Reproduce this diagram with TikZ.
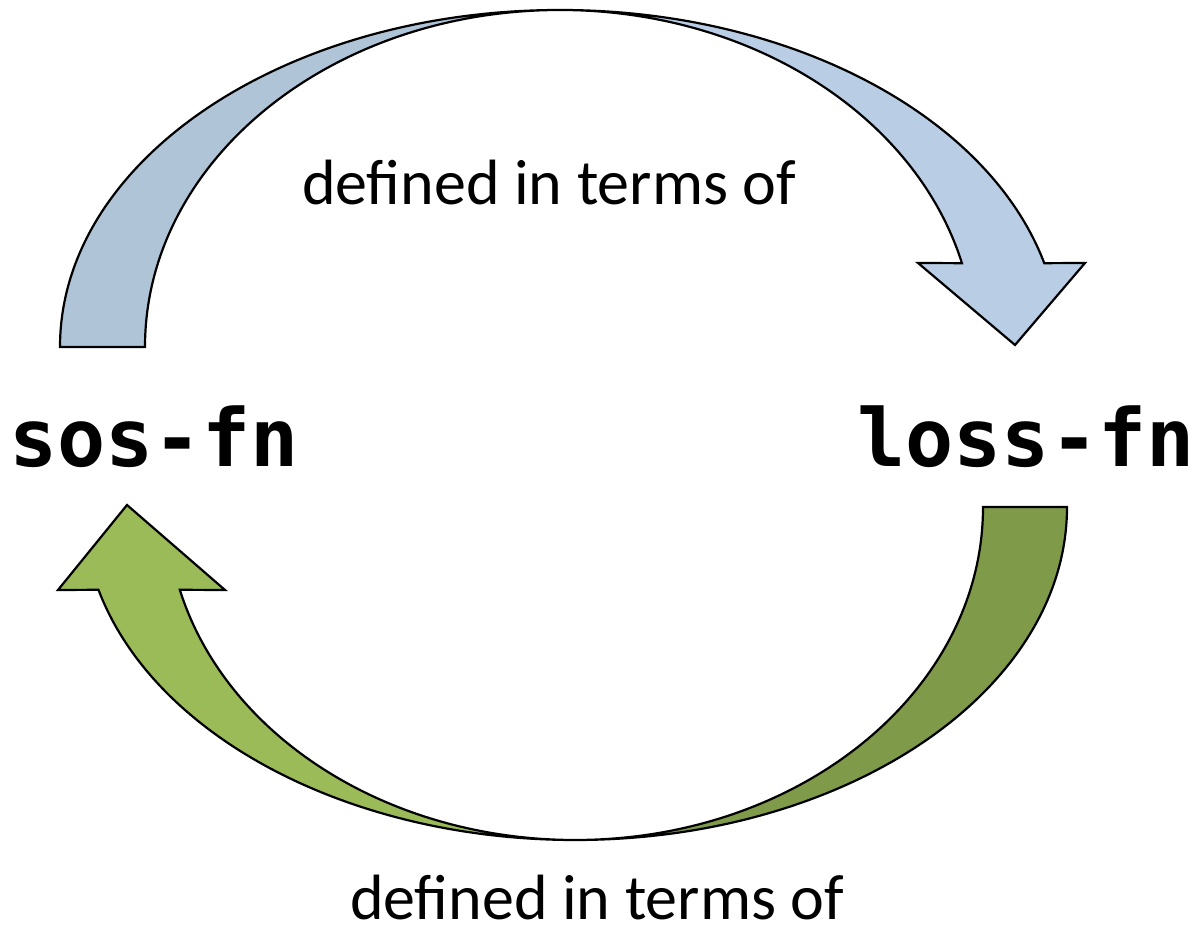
\documentclass[tikz,border=0pt]{standalone}
\usepackage{fontspec}
\setmainfont{Carlito}
\newfontfamily\codefont{DejaVu Sans Mono}
\usepackage{tikz}
\usetikzlibrary{positioning, calc}
\definecolor{blueBack}{HTML}{B0C4D8}
\definecolor{blueFront}{HTML}{B9CDE5}
\definecolor{greenBack}{HTML}{7F9A48}
\definecolor{greenFront}{HTML}{9BBB59}
\tikzset{
  arrow_body/.style={draw=black, line width=2.2pt, line join=miter},
  fn_label/.style={inner sep=0pt, font=\codefont\bfseries\fontsize{80}{96}\selectfont},
  label_text/.style={inner sep=0pt, font=\fontsize{64}{76}\selectfont}
}

\begin{document}
\begin{tikzpicture}[x=1pt, y=1pt]
  \useasboundingbox (0,0) rectangle (1194,933);

  % --- Centres of the two bands ---
  \coordinate (topC) at (560,586);
  \coordinate (botC) at (575,426);

  % --- Top arrow: sos-fn to loss-fn ---
  \draw[arrow_body, fill=blueBack] ($(topC)+(180:500 and 337)$)
    arc[start angle=180, end angle=90, x radius=500, y radius=337]
    arc[start angle=90, end angle=180, x radius=415, y radius=337] -- cycle;
  \draw[arrow_body, fill=blueFront] ($(topC)+(90:500 and 337)$)
    arc[start angle=90, end angle=14.4, x radius=500, y radius=337]
    -- (1085,670) -- (1015,588) -- (918,670)
    -- ($(topC)+(14.4:415 and 337)$)
    arc[start angle=14.4, end angle=90, x radius=415, y radius=337] -- cycle;

  % --- Bottom arrow: loss-fn to sos-fn ---
  \draw[arrow_body, fill=greenBack] ($(botC)+(0:492 and 333)$)
    arc[start angle=0, end angle=-90, x radius=492, y radius=333]
    arc[start angle=-90, end angle=0, x radius=408, y radius=333] -- cycle;
  \draw[arrow_body, fill=greenFront] ($(botC)+(-90:492 and 333)$)
    arc[start angle=-90, end angle=-165.6, x radius=492, y radius=333]
    -- (58,343) -- (127,428) -- (225,343)
    -- ($(botC)+(-165.6:408 and 333)$)
    arc[start angle=-165.6, end angle=-90, x radius=408, y radius=333] -- cycle;

  % --- Labels ---
  \node[fn_label, anchor=base] (sos) at (154,466) {sos-fn};
  \node[fn_label, anchor=base] (loss) at (1026,466) {loss-fn};
  \node[label_text, anchor=base] (topLabel) at (549,728) {defined in terms of};
  \node[label_text, anchor=base] (botLabel) at (597,13) {defined in terms of};
\end{tikzpicture}
\end{document}
